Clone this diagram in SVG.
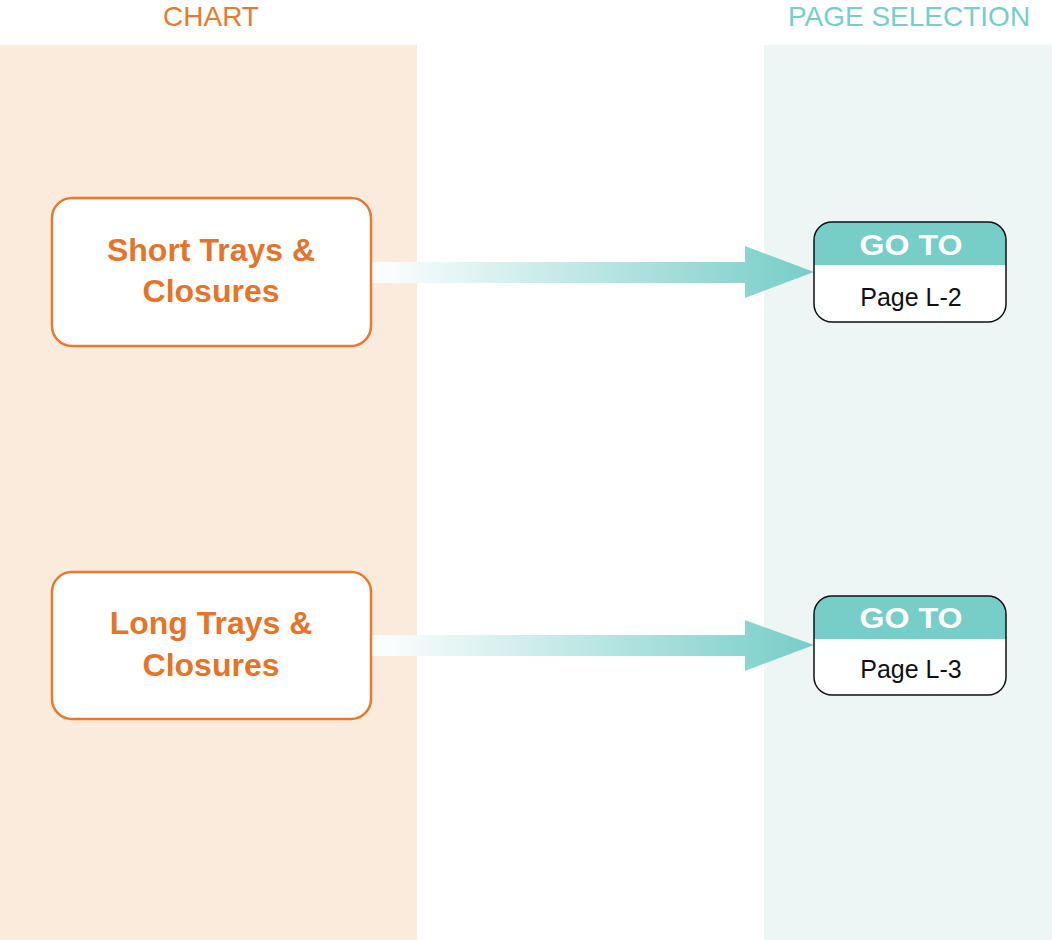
<svg xmlns="http://www.w3.org/2000/svg" width="1052" height="940" viewBox="0 0 1052 940">
<defs>
<style>
.lane-title{font-family:"Liberation Sans",Arial,sans-serif;font-size:28px;text-anchor:middle}
.node{fill:#FFFFFF;stroke:#E87A2E;stroke-width:2.5}
.ntext{font-family:"Liberation Sans",Arial,sans-serif;font-weight:bold;font-size:32px;fill:#E5742A;text-anchor:middle}
.gobox{fill:none;stroke:#111111;stroke-width:1.5}
.gohead{fill:#77CDC8}
.gotext{font-family:"Liberation Sans",Arial,sans-serif;font-weight:bold;font-size:29px;fill:#FFFFFF;text-anchor:middle}
.pagetext{font-family:"Liberation Sans",Arial,sans-serif;font-size:25px;fill:#111111;text-anchor:middle}
</style>
<linearGradient id="arrowGrad" x1="371" y1="0" x2="814" y2="0" gradientUnits="userSpaceOnUse">
<stop offset="0" stop-color="#FFFFFF"/>
<stop offset="1" stop-color="#77CDC8"/>
</linearGradient>
<clipPath id="c1"><rect x="814" y="222" width="192" height="100" rx="18"/></clipPath>
<clipPath id="c2"><rect x="814" y="596" width="192" height="99" rx="18"/></clipPath>
</defs>
<rect width="1052" height="940" fill="#FFFFFF"/>
<g id="lanes">
<rect x="0" y="45" width="417" height="895" fill="#FAEBDD"/>
<rect x="764" y="45" width="288" height="895" fill="#EEF6F5"/>
<text class="lane-title" x="211" y="26" fill="#E87A2E">CHART</text>
<text class="lane-title" x="909" y="26" fill="#77CDC8">PAGE SELECTION</text>
</g>
<g id="connectors">
<polygon points="371,262 745,262 745,246 814,272 745,298 745,283 371,283" fill="url(#arrowGrad)"/>
<polygon points="371,635 745,635 745,620 814,645 745,671 745,656 371,656" fill="url(#arrowGrad)"/>
</g>
<g id="node-short">
<rect class="node" x="52" y="198" width="319" height="148" rx="20"/>
<text class="ntext" x="211" y="261">Short Trays &amp;</text>
<text class="ntext" x="211" y="302">Closures</text>
</g>
<g id="node-long">
<rect class="node" x="52" y="572" width="319" height="147" rx="20"/>
<text class="ntext" x="211" y="634">Long Trays &amp;</text>
<text class="ntext" x="211" y="676">Closures</text>
</g>
<g id="goto-l2">
<rect x="814" y="222" width="192" height="100" rx="18" fill="#FFFFFF"/>
<rect class="gohead" x="814" y="222" width="192" height="43" clip-path="url(#c1)"/>
<rect class="gobox" x="814" y="222" width="192" height="100" rx="18"/>
<text class="gotext" x="911" y="255" textLength="103" lengthAdjust="spacingAndGlyphs">GO TO</text>
<text class="pagetext" x="911" y="306">Page L-2</text>
</g>
<g id="goto-l3">
<rect x="814" y="596" width="192" height="99" rx="18" fill="#FFFFFF"/>
<rect class="gohead" x="814" y="596" width="192" height="43" clip-path="url(#c2)"/>
<rect class="gobox" x="814" y="596" width="192" height="99" rx="18"/>
<text class="gotext" x="911" y="628" textLength="103" lengthAdjust="spacingAndGlyphs">GO TO</text>
<text class="pagetext" x="911" y="678">Page L-3</text>
</g>
</svg>
